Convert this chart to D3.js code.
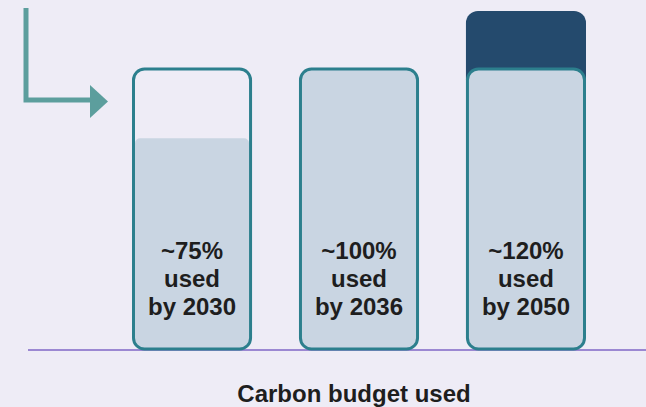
<!DOCTYPE html>
<html>
<head>
<meta charset="utf-8">
<script src="https://cdn.jsdelivr.net/npm/d3@7"></script>
<style>
  html, body { margin: 0; padding: 0; background: #eeecf6; }
  svg { display: block; }
</style>
</head>
<body>
<svg id="chart" width="646" height="407"></svg>
<script>
// Share of the carbon budget used by each year
const years = ["2030", "2036", "2050"];
const budgetUsed = [75, 100, 120];
const axisTitle = "Carbon budget used";

const W = 646, H = 407;
const colors = {
  bg: "#eeecf6",
  fill: "#c9d5e2",
  over: "#244a6d",
  outline: "#2c7f8d",
  arrow: "#5c9e9d",
  baseline: "#9b88d2",
  text: "#1e1e1e"
};

const svg = d3.select("#chart");
svg.append("rect").attr("width", W).attr("height", H).attr("fill", colors.bg);

const x = d3.scaleBand().domain(years).range([132, 586]).paddingInner(0.281).paddingOuter(0);
const y = d3.scaleLinear().domain([0, 100]).range([350.5, 67.5]);

const sw = 3, r = 12;
const bw = x.bandwidth();

// Baseline
svg.append("line")
  .attr("x1", 28).attr("x2", W)
  .attr("y1", 350).attr("y2", 350)
  .attr("stroke", colors.baseline).attr("stroke-width", 2);

// Pointer arrow at top left
svg.append("path")
  .attr("d", "M26,8 V100 H94")
  .attr("fill", "none")
  .attr("stroke", colors.arrow)
  .attr("stroke-width", 5);
svg.append("path")
  .attr("d", "M90,85 L108,101.5 L90,118 Z")
  .attr("fill", colors.arrow);

const data = years.map((yr, i) => ({ year: yr, value: budgetUsed[i] }));
const defs = svg.append("defs");

const g = svg.selectAll("g.bar").data(data).join("g").attr("class", "bar");

// Overshoot above the full budget
g.filter(d => d.value > 100)
  .append("rect")
  .attr("x", d => x(d.year))
  .attr("y", d => y(d.value))
  .attr("width", bw)
  .attr("height", d => y(100) - y(d.value) + 2 * r)
  .attr("rx", r)
  .attr("fill", colors.over);

// Container background
g.append("rect")
  .attr("x", d => x(d.year) + sw / 2)
  .attr("y", y(100) + sw / 2)
  .attr("width", bw - sw)
  .attr("height", y(0) - y(100) - sw)
  .attr("rx", r - 1)
  .attr("fill", colors.bg);

// Clip for the fill level
defs.selectAll("clipPath").data(data).join("clipPath")
  .attr("id", (d, i) => "clip" + i)
  .append("rect")
  .attr("x", d => x(d.year) + sw / 2)
  .attr("y", y(100) + sw / 2)
  .attr("width", bw - sw)
  .attr("height", y(0) - y(100) - sw)
  .attr("rx", r - 1);

g.append("rect")
  .attr("clip-path", (d, i) => `url(#clip${i})`)
  .attr("x", d => x(d.year) + sw)
  .attr("y", d => y(Math.min(d.value, 100)))
  .attr("width", bw - 2 * sw)
  .attr("height", d => y(0) - y(Math.min(d.value, 100)) + 10)
  .attr("rx", 5)
  .attr("fill", colors.fill);

// Container outline
g.append("rect")
  .attr("x", d => x(d.year) + sw / 2)
  .attr("y", y(100) + sw / 2)
  .attr("width", bw - sw)
  .attr("height", y(0) - y(100) - sw)
  .attr("rx", r - 1)
  .attr("fill", "none")
  .attr("stroke", colors.outline)
  .attr("stroke-width", sw);

// Labels inside each container
const label = g.append("text")
  .attr("text-anchor", "middle")
  .attr("font-family", "Liberation Sans, Arial, sans-serif")
  .attr("font-weight", "bold")
  .attr("font-size", 24)
  .attr("fill", colors.text);
label.selectAll("tspan")
  .data(d => [`~${d.value}%`, "used", `by ${d.year}`].map(t => ({ t, d })))
  .join("tspan")
  .attr("x", o => x(o.d.year) + bw / 2)
  .attr("y", (o, i) => 259 + i * 28)
  .text(o => o.t);

// Axis title
svg.append("text")
  .attr("x", 354)
  .attr("y", 402)
  .attr("text-anchor", "middle")
  .attr("font-family", "Liberation Sans, Arial, sans-serif")
  .attr("font-weight", "bold")
  .attr("font-size", 24)
  .attr("fill", colors.text)
  .text(axisTitle);
</script>
</body>
</html>
